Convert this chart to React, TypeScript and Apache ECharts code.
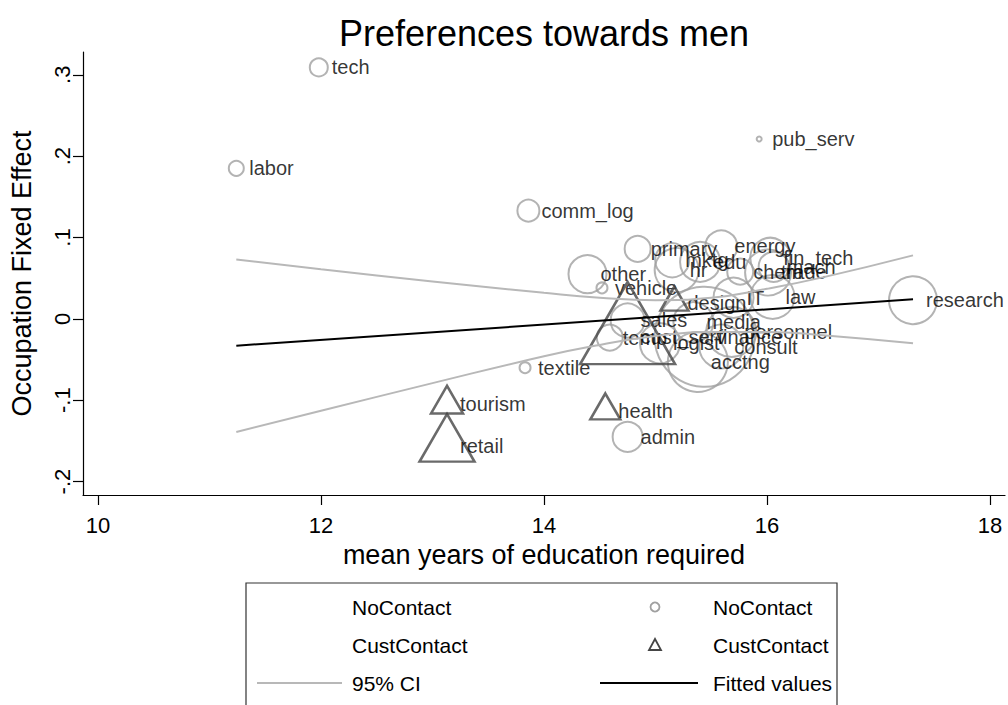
import React, { useEffect, useRef } from 'react';
import * as echarts from 'echarts';

// ---- Data ----
const circleNames = ['tech', 'labor', 'pub_serv', 'comm_log', 'research', 'textile', 'admin', 'other', 'vehicle', 'primary', 'energy', 'mktg', 'edu', 'fin_tech', 'hr', 'chem', 'trade', 'mach', 'IT', 'law', 'sales', 'media', 'temp', 'personnel', 'consult', 'acctng', 'finance', 'logist'];
const circleX = [11.98, 11.24, 15.93, 13.86, 17.31, 13.83, 14.75, 14.39, 14.52, 14.84, 15.59, 15.15, 15.40, 16.03, 15.19, 15.76, 16.01, 16.06, 15.70, 16.05, 14.75, 15.34, 14.59, 15.68, 15.59, 15.38, 15.44, 15.04];
const circleY = [0.309, 0.185, 0.221, 0.133, 0.023, -0.060, -0.145, 0.055, 0.038, 0.086, 0.089, 0.072, 0.070, 0.075, 0.060, 0.058, 0.057, 0.064, 0.026, 0.027, -0.002, -0.004, -0.023, -0.016, -0.034, -0.053, -0.022, -0.030];
const circleWeight = [18, 15, 5, 22, 48, 11, 30, 38, 11, 26, 32, 34, 40, 40, 44, 26, 46, 30, 40, 44, 34, 40, 26, 50, 44, 60, 100, 40];

const triNames = ['tourism', 'retail', 'health', 'cust_serv', 'design'];
const triX = [13.13, 13.13, 14.55, 14.75, 15.17];
const triY = [-0.105, -0.156, -0.113, -0.022, 0.020];
const triWeight = [32, 55, 30, 95, 28];

const fitX = [11.24, 17.31];
const fitY = [-0.033, 0.024];

const ciX = [11.24, 12, 13, 14, 14.5, 15, 15.5, 16, 16.5, 17.31];
const ciUpper = [0.073, 0.061, 0.046, 0.032, 0.026, 0.023, 0.026, 0.037, 0.051, 0.078];
const ciLower = [-0.139, -0.113, -0.079, -0.046, -0.032, -0.021, -0.016, -0.016, -0.020, -0.030];

const xTicks = [10, 12, 14, 16, 18];
const yTicks = [-0.2, -0.1, 0, 0.1, 0.2, 0.3];

const FONT = 'Liberation Sans, Arial, Helvetica, sans-serif';
const CIRCLE_COLOR = '#a0a0a0';
const TRI_COLOR = '#454545';
const CI_COLOR = '#b8b8b8';

function fmtY(v: number): string {
  if (Math.abs(v) < 1e-9) return '0';
  const s = String(Math.round(Math.abs(v) * 10) / 10).replace(/^0/, '');
  return (v < 0 ? '-' : '') + s;
}

export default function App() {
  const ref = useRef<HTMLDivElement>(null);
  useEffect(() => {
    if (!ref.current) return;
    const chart = echarts.init(ref.current, null, { renderer: 'svg' });

    const circleData = circleNames.map((n, i) => ({
      name: n,
      value: [circleX[i], circleY[i]],
      symbolSize: circleWeight[i],
    }));
    const triData = triNames.map((n, i) => {
      const w = triWeight[i];
      const h = w * 0.866;
      return {
        name: n,
        value: [triX[i], triY[i]],
        symbolSize: [w, h],
        symbolOffset: [0, -h / 6],
        label: { offset: [13, h / 6] },
      };
    });

    const labelCfg = {
      show: true,
      position: 'inside',
      align: 'left',
      verticalAlign: 'middle',
      offset: [13, 0],
      formatter: (p: any) => p.name,
      color: '#000',
      fontSize: 20,
      fontFamily: FONT,
    };

    const legendRowY = [607, 645, 683];
    const LT = 21;
    const option: any = {
      animation: false,
      backgroundColor: '#ffffff',
      textStyle: { fontFamily: FONT },
      grid: { left: 83, right: 3, top: 52, bottom: 210, containLabel: false, outerBoundsMode: 'none' },
      xAxis: {
        type: 'value',
        min: 9.865,
        max: 18.135,
        splitLine: { show: false },
        axisLine: { show: true, onZero: false, lineStyle: { color: '#000', width: 1.2 } },
        axisTick: { show: true, inside: false, length: 10, customValues: xTicks, lineStyle: { color: '#000', width: 1.2 } },
        axisLabel: { customValues: xTicks, color: '#000', fontSize: 22, margin: 19, fontFamily: FONT },
        name: 'mean years of education required',
        nameLocation: 'middle',
        nameGap: 46,
        nameTextStyle: { color: '#000', fontSize: 27, fontFamily: FONT },
      },
      yAxis: {
        type: 'value',
        min: -0.2165,
        max: 0.328,
        splitLine: { show: false },
        axisLine: { show: true, onZero: false, lineStyle: { color: '#000', width: 1.2 } },
        axisTick: { show: true, inside: false, length: 10, customValues: yTicks, lineStyle: { color: '#000', width: 1.2 } },
        axisLabel: { customValues: yTicks, color: '#000', fontSize: 22, margin: 10, rotate: 90, formatter: fmtY, fontFamily: FONT },
        name: 'Occupation Fixed Effect',
        nameLocation: 'middle',
        nameRotate: 90,
        nameGap: 48,
        nameTextStyle: { color: '#000', fontSize: 27, fontFamily: FONT },
      },
      series: [
        {
          type: 'scatter',
          name: 'NoContact',
          symbol: 'circle',
          data: circleData,
          itemStyle: { color: 'rgba(0,0,0,0)', borderColor: CIRCLE_COLOR, borderWidth: 2 },
          label: labelCfg,
          emphasis: { disabled: true },
          z: 2,
        },
        {
          type: 'scatter',
          name: 'CustContact',
          symbol: 'triangle',
          data: triData,
          itemStyle: { color: 'rgba(0,0,0,0)', borderColor: TRI_COLOR, borderWidth: 2.5 },
          label: labelCfg,
          emphasis: { disabled: true },
          z: 3,
        },
        {
          type: 'line',
          name: '95% CI upper',
          data: ciX.map((x, i) => [x, ciUpper[i]]),
          symbol: 'none',
          smooth: true,
          lineStyle: { color: CI_COLOR, width: 2 },
          z: 4,
        },
        {
          type: 'line',
          name: '95% CI lower',
          data: ciX.map((x, i) => [x, ciLower[i]]),
          symbol: 'none',
          smooth: true,
          lineStyle: { color: CI_COLOR, width: 2 },
          z: 4,
        },
        {
          type: 'line',
          name: 'Fitted values',
          data: fitX.map((x, i) => [x, fitY[i]]),
          symbol: 'none',
          lineStyle: { color: '#000', width: 2 },
          z: 5,
        },
      ],
      graphic: [
        {
          type: 'text',
          x: 544,
          y: 33,
          style: { text: 'Preferences towards men', fontSize: 36, fontFamily: FONT, fill: '#000', align: 'center', verticalAlign: 'middle' },
        },
        {
          type: 'rect',
          shape: { x: 246, y: 583, width: 591, height: 140 },
          style: { fill: '#fff', stroke: '#333', lineWidth: 1.2 },
        },
        { type: 'text', x: 352, y: legendRowY[0], style: { text: 'NoContact', fontSize: LT, fontFamily: FONT, fill: '#000', verticalAlign: 'middle' } },
        { type: 'text', x: 352, y: legendRowY[1], style: { text: 'CustContact', fontSize: LT, fontFamily: FONT, fill: '#000', verticalAlign: 'middle' } },
        { type: 'text', x: 352, y: legendRowY[2], style: { text: '95% CI', fontSize: LT, fontFamily: FONT, fill: '#000', verticalAlign: 'middle' } },
        { type: 'line', shape: { x1: 257, y1: legendRowY[2], x2: 342, y2: legendRowY[2] }, style: { stroke: CI_COLOR, lineWidth: 2 } },
        { type: 'circle', shape: { cx: 655, cy: legendRowY[0], r: 4.5 }, style: { fill: 'none', stroke: CIRCLE_COLOR, lineWidth: 1.8 } },
        { type: 'polygon', shape: { points: [[655, legendRowY[1] - 6], [649, legendRowY[1] + 5], [661, legendRowY[1] + 5]] }, style: { fill: 'none', stroke: TRI_COLOR, lineWidth: 1.8 } },
        { type: 'line', shape: { x1: 600, y1: legendRowY[2], x2: 698, y2: legendRowY[2] }, style: { stroke: '#000', lineWidth: 2 } },
        { type: 'text', x: 713, y: legendRowY[0], style: { text: 'NoContact', fontSize: LT, fontFamily: FONT, fill: '#000', verticalAlign: 'middle' } },
        { type: 'text', x: 713, y: legendRowY[1], style: { text: 'CustContact', fontSize: LT, fontFamily: FONT, fill: '#000', verticalAlign: 'middle' } },
        { type: 'text', x: 713, y: legendRowY[2], style: { text: 'Fitted values', fontSize: LT, fontFamily: FONT, fill: '#000', verticalAlign: 'middle' } },
      ],
    };
    chart.setOption(option);
    return () => chart.dispose();
  }, []);
  return <div ref={ref} style={{ position: 'absolute', left: 0, top: 0, width: 1008, height: 705, background: '#fff' }} />;
}
